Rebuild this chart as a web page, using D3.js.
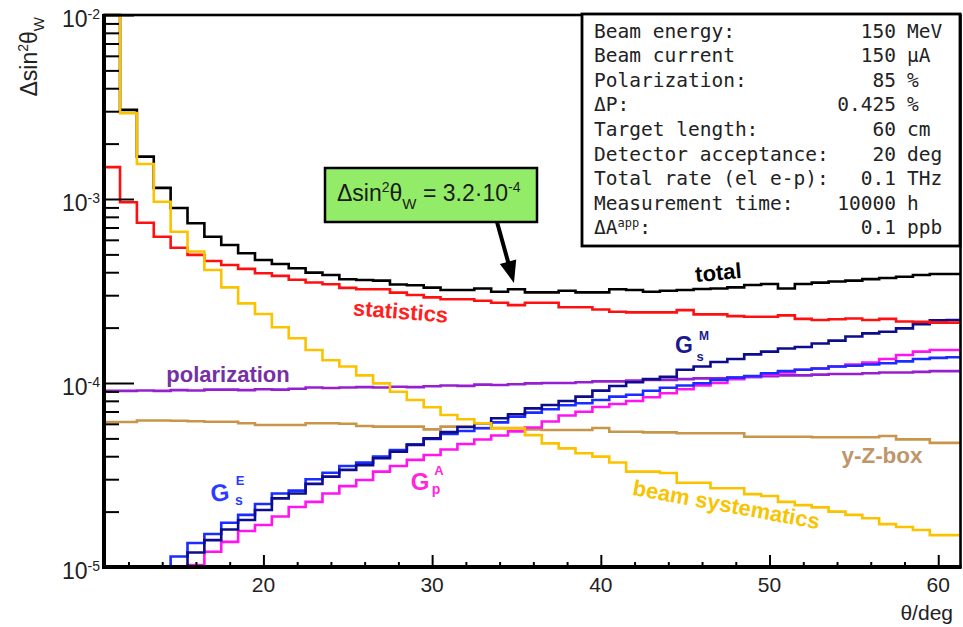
<!DOCTYPE html>
<html><head><meta charset="utf-8">
<script src="https://cdn.jsdelivr.net/npm/d3@7/dist/d3.min.js"></script>
<style>body{margin:0;background:#fff;}svg{display:block;}</style>
</head><body><svg id="c" width="963" height="627"></svg>
<script>
// ---------- data (bin centres in degrees, 1-degree bins) ----------
const thetaBins = [11,12,13,14,15,16,17,18,19,20,21,22,23,24,25,26,27,28,29,30,31,32,33,34,35,36,37,38,39,40,41,42,43,44,45,46,47,48,49,50,51,52,53,54,55,56,57,58,59,60,61];
const total = [1.3e-2,3.05e-3,1.70e-3,1.15e-3,8.93e-4,7.38e-4,6.24e-4,5.62e-4,5.07e-4,4.66e-4,
  4.43e-4,4.2e-4,3.98e-4,3.86e-4,3.66e-4,3.63e-4,3.6e-4,3.43e-4,3.4e-4,3.3e-4,
  3.2e-4,3.2e-4,3.26e-4,3.13e-4,3.23e-4,3.11e-4,3.11e-4,3.17e-4,3.11e-4,3.11e-4,
  3.23e-4,3.2e-4,3.13e-4,3.17e-4,3.2e-4,3.24e-4,3.26e-4,3.31e-4,3.41e-4,3.45e-4,
  3.26e-4,3.45e-4,3.51e-4,3.56e-4,3.6e-4,3.67e-4,3.72e-4,3.78e-4,3.86e-4,3.91e-4,3.91e-4];
const statistics = [1.49e-3,9.6e-4,7.43e-4,6.24e-4,5.43e-4,4.97e-4,4.6e-4,4.38e-4,4.17e-4,3.95e-4,
  3.82e-4,3.64e-4,3.52e-4,3.44e-4,3.29e-4,3.23e-4,3.23e-4,3.1e-4,3.01e-4,2.92e-4,
  2.85e-4,2.85e-4,2.8e-4,2.73e-4,2.65e-4,2.73e-4,2.73e-4,2.58e-4,2.58e-4,2.51e-4,
  2.44e-4,2.42e-4,2.42e-4,2.42e-4,2.49e-4,2.36e-4,2.36e-4,2.31e-4,2.29e-4,2.29e-4,
  2.33e-4,2.23e-4,2.2e-4,2.22e-4,2.24e-4,2.2e-4,2.23e-4,2.16e-4,2.15e-4,2.13e-4,2.13e-4];
const beamSystematics = [1.25e-2,2.93e-3,1.55e-3,9.66e-4,6.64e-4,5.18e-4,4.11e-4,3.31e-4,2.71e-4,2.37e-4,
  2.01e-4,1.75e-4,1.51e-4,1.33e-4,1.23e-4,1.10e-4,9.95e-5,8.97e-5,8.09e-5,7.38e-5,
  6.7e-5,6.35e-5,6.04e-5,5.67e-5,5.67e-5,5.21e-5,4.7e-5,4.41e-5,4.15e-5,3.98e-5,
  3.7e-5,3.3e-5,3.3e-5,3.24e-5,2.87e-5,2.87e-5,2.68e-5,2.68e-5,2.49e-5,2.43e-5,
  2.26e-5,2.17e-5,2.11e-5,2.0e-5,1.92e-5,1.84e-5,1.71e-5,1.65e-5,1.59e-5,1.49e-5,1.49e-5];
const polarization = [9.06e-5,9.06e-5,9.1e-5,9.06e-5,9.15e-5,9.1e-5,9.2e-5,9.2e-5,9.15e-5,9.25e-5,
  9.2e-5,9.3e-5,9.45e-5,9.4e-5,9.45e-5,9.5e-5,9.45e-5,9.55e-5,9.5e-5,9.6e-5,
  9.7e-5,9.65e-5,9.8e-5,9.75e-5,9.85e-5,9.95e-5,1.0e-4,1.0e-4,1.01e-4,1.02e-4,
  1.02e-4,1.03e-4,1.04e-4,1.04e-4,1.05e-4,1.06e-4,1.06e-4,1.07e-4,1.08e-4,1.09e-4,
  1.1e-4,1.1e-4,1.11e-4,1.12e-4,1.12e-4,1.13e-4,1.14e-4,1.14e-4,1.15e-4,1.16e-4,1.16e-4];
const yZBox = [6.14e-5,6.14e-5,6.25e-5,6.25e-5,6.24e-5,6.2e-5,6.16e-5,6.16e-5,6.04e-5,5.91e-5,
  5.91e-5,5.91e-5,6.04e-5,6.04e-5,6.0e-5,5.84e-5,5.79e-5,5.79e-5,5.79e-5,5.6e-5,
  5.79e-5,5.79e-5,5.69e-5,5.69e-5,5.69e-5,5.6e-5,5.55e-5,5.55e-5,5.55e-5,5.69e-5,
  5.43e-5,5.43e-5,5.39e-5,5.39e-5,5.33e-5,5.33e-5,5.33e-5,5.33e-5,5.1e-5,5.1e-5,
  5.1e-5,5.1e-5,5.07e-5,5.07e-5,5.07e-5,5.07e-5,5.15e-5,4.94e-5,4.94e-5,4.73e-5,4.73e-5];
const gsE = [8e-6,8e-6,8e-6,8e-6,1.14e-5,1.35e-5,1.51e-5,1.74e-5,1.92e-5,2.2e-5,
  2.51e-5,2.6e-5,3.0e-5,3.25e-5,3.54e-5,3.69e-5,3.98e-5,4.32e-5,4.64e-5,4.96e-5,
  5.28e-5,5.48e-5,5.68e-5,6.11e-5,6.56e-5,6.9e-5,7.2e-5,7.57e-5,7.76e-5,8.09e-5,
  8.43e-5,8.64e-5,9.08e-5,9.43e-5,9.7e-5,9.96e-5,1.04e-4,1.07e-4,1.09e-4,1.13e-4,
  1.16e-4,1.18e-4,1.2e-4,1.23e-4,1.24e-4,1.26e-4,1.28e-4,1.31e-4,1.35e-4,1.37e-4,1.38e-4];
const gsM = [8e-6,8e-6,8e-6,8e-6,8e-6,1.2e-5,1.4e-5,1.6e-5,1.8e-5,2.04e-5,
  2.36e-5,2.51e-5,2.83e-5,3.1e-5,3.37e-5,3.58e-5,3.9e-5,4.23e-5,4.6e-5,5.0e-5,
  5.41e-5,5.77e-5,6.04e-5,6.43e-5,6.76e-5,7.28e-5,7.59e-5,7.98e-5,8.43e-5,9.09e-5,
  9.63e-5,1.01e-4,1.05e-4,1.08e-4,1.18e-4,1.23e-4,1.30e-4,1.35e-4,1.43e-4,1.48e-4,
  1.54e-4,1.57e-4,1.64e-4,1.70e-4,1.79e-4,1.86e-4,1.90e-4,1.98e-4,2.09e-4,2.19e-4,2.2e-4];
const gpA = [8e-6,8e-6,8e-6,8e-6,8e-6,1.025e-5,1.21e-5,1.37e-5,1.57e-5,1.69e-5,
  1.88e-5,2.12e-5,2.26e-5,2.51e-5,2.75e-5,2.97e-5,3.3e-5,3.54e-5,3.82e-5,4.06e-5,
  4.35e-5,4.66e-5,4.93e-5,5.18e-5,5.46e-5,5.73e-5,6.18e-5,6.66e-5,6.98e-5,7.41e-5,
  7.69e-5,7.98e-5,8.36e-5,8.79e-5,9.24e-5,9.71e-5,1.0e-4,1.05e-4,1.08e-4,1.11e-4,
  1.14e-4,1.18e-4,1.2e-4,1.23e-4,1.26e-4,1.29e-4,1.35e-4,1.42e-4,1.48e-4,1.51e-4,1.51e-4];

const xTickValues = [20,30,40,50,60];
const yDecadeExponents = [-5,-4,-3,-2];
const infoLabels = ["Beam energy:","Beam current","Polarization:","\u0394P:","Target length:","Detector acceptance:","Total rate (el e-p):","Measurement time:","\u0394A"];
const infoValues = ["150","150","85","0.425","60","20","0.1","10000","0.1"];
const infoUnits = ["MeV","\u00b5A","%","%","cm","deg","THz","h","ppb"];
const highlight = {theta: 34.85, value: 3.5e-4, text: "3.2\u00b710"};

// ---------- scales ----------
const svg = d3.select("#c");
const L = 104, R = 960.5, T = 15, B = 567;
const x = d3.scaleLinear().domain([10.55, 61.32]).range([L, R]);
const y = d3.scaleLog().domain([1e-5, 1e-2]).range([B, T]);
const [xmin, xmax] = x.domain(), [ymin, ymax] = y.domain();

const series = [
  {v: polarization, c: "#9620d0"},
  {v: yZBox, c: "#c8964a"},
  {v: gpA, c: "#ff14f0"},
  {v: gsE, c: "#1a2cff"},
  {v: gsM, c: "#0c0c8c"},
  {v: statistics, c: "#ff1010"},
  {v: total, c: "#000000"},
  {v: beamSystematics, c: "#fbc200"}
];

const line = d3.line().x(d => x(d[0])).y(d => y(d[1]));
function stepPoints(vals) {
  const pts = [];
  thetaBins.forEach((t, i) => {
    const v = Math.max(ymin, Math.min(ymax, vals[i]));
    pts.push([Math.max(xmin, t - 0.5), v]);
    pts.push([Math.min(xmax, t + 0.5), v]);
  });
  return pts;
}
const gLines = svg.append("g");
series.forEach(s => {
  gLines.append("path").attr("d", line(stepPoints(s.v)))
    .attr("fill", "none").attr("stroke", s.c).attr("stroke-width", 2.6)
    .attr("stroke-linejoin", "miter");
});

// ---------- axes ----------
const yMinor = [];
yDecadeExponents.slice(0, 3).forEach(e => { for (let m = 2; m <= 9; m++) yMinor.push(m * Math.pow(10, e)); });
const yMajor = yDecadeExponents.map(e => Math.pow(10, e));
const ax = svg.append("g").attr("stroke-width", 2);
ax.append("g").attr("transform", `translate(${L},0)`)
  .call(d3.axisRight(y).tickValues(yMinor).tickSize(15).tickFormat(""));
ax.append("g").attr("transform", `translate(${L},0)`)
  .call(d3.axisRight(y).tickValues(yMajor).tickSize(30).tickFormat(""));
const xMinor = d3.range(12, 62, 2).filter(v => v % 10 !== 0);
ax.append("g").attr("transform", `translate(0,${B})`)
  .call(d3.axisTop(x).tickValues(xMinor).tickSize(5).tickFormat(""));
ax.append("g").attr("transform", `translate(0,${B})`)
  .call(d3.axisTop(x).tickValues(xTickValues).tickSize(12).tickFormat(""));
ax.selectAll(".domain").remove();
ax.selectAll(".tick line").attr("stroke", "#000").attr("stroke-width", 2);

// frame
svg.append("rect").attr("x", L).attr("y", T).attr("width", R - L).attr("height", B - T)
  .attr("fill", "none").attr("stroke", "#000").attr("stroke-width", 2.6);
svg.append("line").attr("x1", L).attr("x2", L).attr("y1", T - 1).attr("y2", B + 2)
  .attr("stroke", "#000").attr("stroke-width", 4);
svg.append("line").attr("x1", L - 2).attr("x2", R + 1).attr("y1", B).attr("y2", B)
  .attr("stroke", "#000").attr("stroke-width", 4);

const SANS = "'Liberation Sans', Arial, Helvetica, sans-serif";
// y tick labels
yDecadeExponents.forEach(e => {
  const t = svg.append("text").attr("x", 100).attr("y", y(Math.pow(10, e)) + 12)
    .attr("text-anchor", "end").attr("font-family", SANS).attr("font-size", 23).attr("fill", "#222");
  t.append("tspan").text("10");
  t.append("tspan").attr("dy", -8).attr("font-size", 14).text(String(e));
});
// x tick labels
xTickValues.forEach(v => {
  svg.append("text").attr("x", x(v)).attr("y", B + 25).attr("text-anchor", "middle")
    .attr("font-family", SANS).attr("font-size", 21).attr("fill", "#222").text(v);
});
// axis titles
svg.append("text").attr("x", 953).attr("y", 620).attr("text-anchor", "end")
  .attr("font-family", SANS).attr("font-size", 21).attr("fill", "#222").text("\u03b8/deg");
{
  const t = svg.append("text").attr("transform", "translate(37,17) rotate(-90)")
    .attr("text-anchor", "end").attr("font-family", SANS).attr("font-size", 23).attr("fill", "#222");
  t.append("tspan").text("\u0394sin");
  t.append("tspan").attr("dy", -9).attr("font-size", 14).text("2");
  t.append("tspan").attr("dy", 9).text("\u03b8");
  t.append("tspan").attr("dy", 7).attr("font-size", 15).text("W");
}

// ---------- curve labels ----------
function lbl(txt, px, py, color, rot, size, anchor) {
  svg.append("text").attr("transform", `translate(${px},${py}) rotate(${rot || 0})`)
    .attr("text-anchor", anchor || "middle").attr("font-family", SANS)
    .attr("font-weight", "bold").attr("font-size", size || 22).attr("fill", color).text(txt);
}
lbl("total", 719, 280, "#000", -5);
lbl("statistics", 400, 319, "#ff2020", 4.5);
lbl("polarization", 228, 382, "#7630a6", 0);
lbl("y-Z-box", 882, 463, "#c0956a", 0, 22.5);
lbl("beam systematics", 725, 512, "#f8c400", 10.5);
// G labels
lbl("G", 684, 353, "#1a1a8e", 0, 23); lbl("M", 704, 340, "#1a1a8e", 0, 12); lbl("s", 700, 361, "#1a1a8e", 0, 13);
lbl("G", 221, 501, "#2b3bff", -8, 24); lbl("E", 240, 485, "#2b3bff", 0, 13); lbl("s", 239, 505, "#2b3bff", 0, 14);
lbl("G", 420, 490, "#ff26dc", 0, 24); lbl("A", 439, 475, "#ff26dc", 0, 13); lbl("p", 436, 494, "#ff26dc", 0, 14);

// ---------- annotation box + arrow ----------
svg.append("rect").attr("x", 325).attr("y", 168).attr("width", 212).attr("height", 54)
  .attr("fill", "#93ec68").attr("stroke", "#000").attr("stroke-width", 2.5);
{
  const t = svg.append("text").attr("x", 337).attr("y", 201).attr("font-family", SANS)
    .attr("font-size", 23).attr("fill", "#1a1a1a");
  t.append("tspan").text("\u0394sin");
  t.append("tspan").attr("dy", -9).attr("font-size", 14).text("2");
  t.append("tspan").attr("dy", 9).text("\u03b8");
  t.append("tspan").attr("dy", 8).attr("font-size", 15).text("W");
  t.append("tspan").attr("dy", -8).text(" = " + highlight.text);
  t.append("tspan").attr("dy", -9).attr("font-size", 14).text("-4");
}
{
  const tx = x(highlight.theta), ty = y(highlight.value);
  const sx = 497, sy = 222;
  const dx = tx - sx, dy = ty - sy, len = Math.hypot(dx, dy);
  const ux = dx / len, uy = dy / len, px = -uy, py = ux;
  const hl = 22, hw = 8.5;
  const bx = tx - hl * ux, by = ty - hl * uy;
  svg.append("line").attr("x1", sx).attr("y1", sy).attr("x2", bx + ux * 2).attr("y2", by + uy * 2)
    .attr("stroke", "#000").attr("stroke-width", 4);
  svg.append("path").attr("d", `M${tx},${ty}L${bx + hw * px},${by + hw * py}L${bx - hw * px},${by - hw * py}Z`)
    .attr("fill", "#000");
}

// ---------- info box ----------
svg.append("rect").attr("x", 582).attr("y", 14).attr("width", 378).attr("height", 232)
  .attr("fill", "#fff").attr("stroke", "#000").attr("stroke-width", 2.8);
const MONO = "'DejaVu Sans Mono', 'Liberation Mono', monospace";
infoLabels.forEach((lab, i) => {
  const yy = 37.5 + i * 24.6;
  const t = svg.append("text").attr("x", 594).attr("y", yy).attr("font-family", MONO)
    .attr("font-size", 19.5).attr("fill", "#222");
  t.append("tspan").text(lab);
  if (i === infoLabels.length - 1) {
    t.append("tspan").attr("dy", -7).attr("font-size", 12).text("app");
    t.append("tspan").attr("dy", 7).text(":");
  }
  svg.append("text").attr("x", 896).attr("y", yy).attr("text-anchor", "end")
    .attr("font-family", MONO).attr("font-size", 19.5).attr("fill", "#222").text(infoValues[i]);
  svg.append("text").attr("x", 907).attr("y", yy)
    .attr("font-family", MONO).attr("font-size", 19.5).attr("fill", "#222").text(infoUnits[i]);
});
</script></body></html>
